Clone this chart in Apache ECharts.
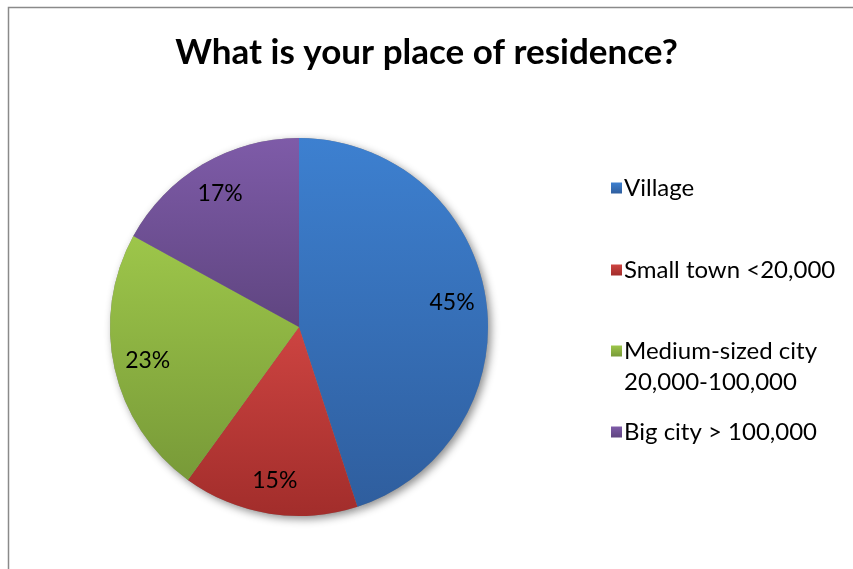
<!DOCTYPE html>
<html>
<head>
<meta charset="utf-8">
<script src="https://cdn.jsdelivr.net/npm/echarts@6/dist/echarts.min.js"></script>
<style>
  html, body { margin: 0; padding: 0; background: #fff; }
  #chart { width: 853px; height: 569px; }
</style>
</head>
<body>
<div id="chart"></div>
<script>
// Survey answers: place of residence (share of respondents, %)
const categories = ['Village', 'Small town <20,000', 'Medium-sized city\n20,000-100,000', 'Big city > 100,000'];
const shares = [45, 15, 23, 17];
// top / bottom colours of each slice's vertical gradient
const topColors = ['#3d80d0', '#cd4441', '#9dc64a', '#7e5ba8'];
const bottomColors = ['#2f5e9e', '#a22d2b', '#789a38', '#5f4580'];

const FONT = 'Lato, "Noto Sans", sans-serif';
const CENTER = [299, 327];
const RADIUS = 189;

const chart = echarts.init(document.getElementById('chart'), null, { renderer: 'canvas' });

const sliceData = categories.map((name, i) => ({
  name,
  value: shares[i],
  itemStyle: {
    color: new echarts.graphic.LinearGradient(0, 0, 0, 1, [
      { offset: 0, color: topColors[i] },
      { offset: 1, color: bottomColors[i] }
    ])
  }
}));

// legend entries, one block per item so the spacing can follow the layout
const LINE_H = 31;
const legendCenters = [188, 270, 351, 432];
const legends = categories.map((name, i) => {
  const multi = name.indexOf('\n') >= 0;
  const boxH = multi ? LINE_H * 3 : LINE_H;
  return {
    data: [name],
    orient: 'vertical',
    left: 611,
    top: legendCenters[i] - boxH / 2,
    padding: 0,
    icon: 'rect',
    itemWidth: 11,
    itemHeight: 11,
    itemGap: 0,
    selectedMode: false,
    // a blank first line keeps the icon level with the first line of a two-line name
    formatter: multi ? (n => ' \n' + n) : (n => n),
    textStyle: {
      fontFamily: FONT,
      fontSize: 24,
      color: '#000',
      lineHeight: LINE_H,
      padding: [0, 0, 0, -3]
    }
  };
});

chart.setOption({
  animation: false,
  backgroundColor: '#fff',
  title: {
    text: 'What is your place of residence?',
    left: 'center',
    top: 30,
    textStyle: { fontFamily: FONT, fontSize: 35, fontWeight: 'bold', color: '#000' }
  },
  graphic: [{
    type: 'rect',
    shape: { x: 8.5, y: 7.5, width: 900, height: 600 },
    style: { fill: 'none', stroke: '#8a8a8a', lineWidth: 1.5 },
    silent: true,
    z: -10
  }],
  legend: legends,
  series: [
    {
      // soft shadow under the whole disc
      type: 'pie',
      center: CENTER,
      radius: [0, RADIUS],
      startAngle: 90,
      clockwise: true,
      silent: true,
      z: 1,
      label: { show: false },
      labelLine: { show: false },
      itemStyle: {
        color: '#888',
        shadowBlur: 8,
        shadowOffsetX: 3,
        shadowOffsetY: 3,
        shadowColor: 'rgba(0,0,0,0.45)'
      },
      data: categories.map((name, i) => ({ name: '_s' + i, value: shares[i] }))
    },
    {
      type: 'pie',
      center: CENTER,
      radius: [0, RADIUS],
      startAngle: 90,
      clockwise: true,
      z: 2,
      label: { show: false },
      labelLine: { show: false },
      itemStyle: { borderWidth: 0 },
      data: sliceData
    },
    {
      // percentage labels placed in the outer part of each slice
      type: 'pie',
      center: CENTER,
      radius: [115, RADIUS],
      startAngle: 90,
      clockwise: true,
      silent: true,
      z: 3,
      itemStyle: { color: 'rgba(0,0,0,0)' },
      label: {
        show: true,
        position: 'inside',
        formatter: p => p.value + '%',
        fontFamily: FONT,
        fontSize: 23,
        color: '#000'
      },
      labelLine: { show: false },
      data: categories.map((name, i) => ({ name: '_l' + i, value: shares[i] }))
    }
  ]
});
</script>
</body>
</html>
